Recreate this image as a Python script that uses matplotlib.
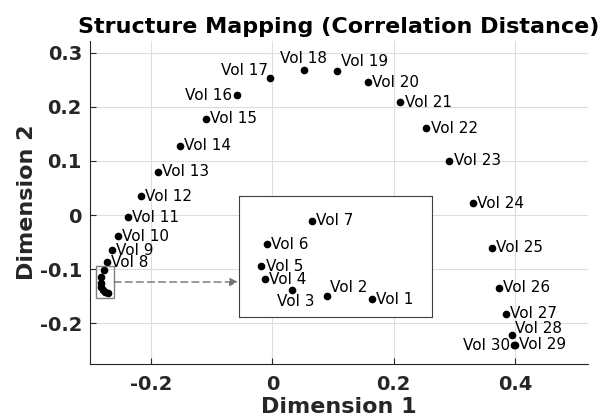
import matplotlib
matplotlib.use("Agg")
import matplotlib.pyplot as plt
from matplotlib.patches import Rectangle
from matplotlib.transforms import blended_transform_factory

plt.rcParams["font.family"] = ["DejaVu Sans"]
plt.rcParams["axes.unicode_minus"] = False

# 2-D MDS coordinates of the 30 volumes
vol_names = [f"Vol {i}" for i in range(1, 31)]
dim1 = [-0.2705, -0.2754, -0.2792, -0.2821, -0.2825, -0.2819, -0.2770,
        -0.272, -0.264, -0.254, -0.238, -0.216, -0.189, -0.152, -0.110,
        -0.059, -0.003, 0.052, 0.107, 0.157, 0.211, 0.254, 0.292, 0.331,
        0.362, 0.374, 0.385, 0.395, 0.400, 0.399]
dim2 = [-0.1445, -0.1427, -0.1394, -0.1335, -0.1264, -0.1147, -0.1019,
        -0.087, -0.065, -0.039, -0.004, 0.035, 0.080, 0.128, 0.178,
        0.222, 0.254, 0.269, 0.267, 0.246, 0.209, 0.161, 0.100, 0.022,
        -0.061, -0.135, -0.183, -0.222, -0.240, -0.241]

n_zoom = 7  # first volumes that sit in the magnified cluster

xticks = [-0.2, 0, 0.2, 0.4]
xticklabels = ["-0.2", "0", "0.2", "0.4"]
yticks = [-0.2, -0.1, 0, 0.1, 0.2, 0.3]
yticklabels = ["-0.2", "-0.1", "0", "0.1", "0.2", "0.3"]

# label placement: (dx, dy) in points, ha, va
default_place = (3, 0, "left", "center")
place = {
    2: (2, 1, "left", "bottom"),
    3: (3, -3, "center", "top"),
    16: (-3, 0, "right", "center"),
    17: (-2, 0, "right", "bottom"),
    18: (0, 3, "center", "bottom"),
    19: (3, 1, "left", "bottom"),
    28: (2, -1, "left", "bottom"),
    30: (-3, 0, "right", "center"),
}

dark = "#262626"

fig = plt.figure(figsize=(6.06, 4.19), dpi=100)
ax = fig.add_axes([0.149, 0.131, 0.821, 0.771])

ax.grid(True, color="#dedede", linewidth=0.8)
ax.set_axisbelow(True)
ax.plot(dim1, dim2, "o", color="black", ms=4.5, zorder=3)

for i in range(n_zoom, len(vol_names)):
    dx, dy, ha, va = place.get(i + 1, default_place)
    ax.annotate(vol_names[i], (dim1[i], dim2[i]), xytext=(dx, dy),
                textcoords="offset points", ha=ha, va=va, fontsize=11,
                color="black")

ax.set_xlim(-0.3, 0.52)
ax.set_ylim(-0.276, 0.322)
ax.set_xticks(xticks)
ax.set_xticklabels(xticklabels)
ax.set_yticks(yticks)
ax.set_yticklabels(yticklabels)
ax.tick_params(direction="in", length=4, width=0.8, colors=dark, labelsize=14)
ax.tick_params(axis="x", pad=8)
ax.tick_params(axis="y", pad=6)
for lbl in ax.get_xticklabels() + ax.get_yticklabels():
    lbl.set_fontweight("bold")
for side in ["top", "right"]:
    ax.spines[side].set_visible(False)
for side in ["left", "bottom"]:
    ax.spines[side].set_color(dark)
    ax.spines[side].set_linewidth(0.8)

ax.set_xlabel("Dimension 1", fontsize=16, fontweight="bold", color=dark, labelpad=2)
ax.set_ylabel("Dimension 2", fontsize=16, fontweight="bold", color=dark, labelpad=2)
ax.set_title("Structure Mapping (Correlation Distance)", fontsize=16,
             fontweight="bold", color="black", pad=6)

# magnified view of the tight cluster
zoom_x = (-0.291, -0.2607)
zoom_y = (-0.154, -0.094)
ax.add_patch(Rectangle((zoom_x[0], zoom_y[0]), zoom_x[1] - zoom_x[0],
                       zoom_y[1] - zoom_y[0], fill=False, edgecolor="#808080",
                       linewidth=1, zorder=4))

ins = fig.add_axes([0.395, 0.244, 0.318, 0.288])
ins.plot(dim1[:n_zoom], dim2[:n_zoom], "o", color="black", ms=4.5)
for i in range(n_zoom):
    dx, dy, ha, va = place.get(i + 1, default_place)
    ins.annotate(vol_names[i], (dim1[i], dim2[i]), xytext=(dx, dy),
                 textcoords="offset points", ha=ha, va=va, fontsize=11,
                 color="black")
ins.set_xlim(-0.2849, -0.2640)
ins.set_ylim(-0.1539, -0.0885)
ins.set_xticks([])
ins.set_yticks([])
for sp in ins.spines.values():
    sp.set_color("#404040")
    sp.set_linewidth(0.8)

# dashed arrow from the zoom box to the inset, kept horizontal
mid_y = sum(zoom_y) / 2
head_tf = blended_transform_factory(ins.transAxes, ax.transData)
ax.annotate("", xy=(0, mid_y), xycoords=head_tf,
            xytext=(zoom_x[1], mid_y), textcoords="data",
            arrowprops=dict(arrowstyle="-|>", color="#707070", lw=1,
                            linestyle=(0, (5, 3)), shrinkA=0, shrinkB=1,
                            mutation_scale=12), zorder=5)

fig.savefig("out.png", dpi=100)
